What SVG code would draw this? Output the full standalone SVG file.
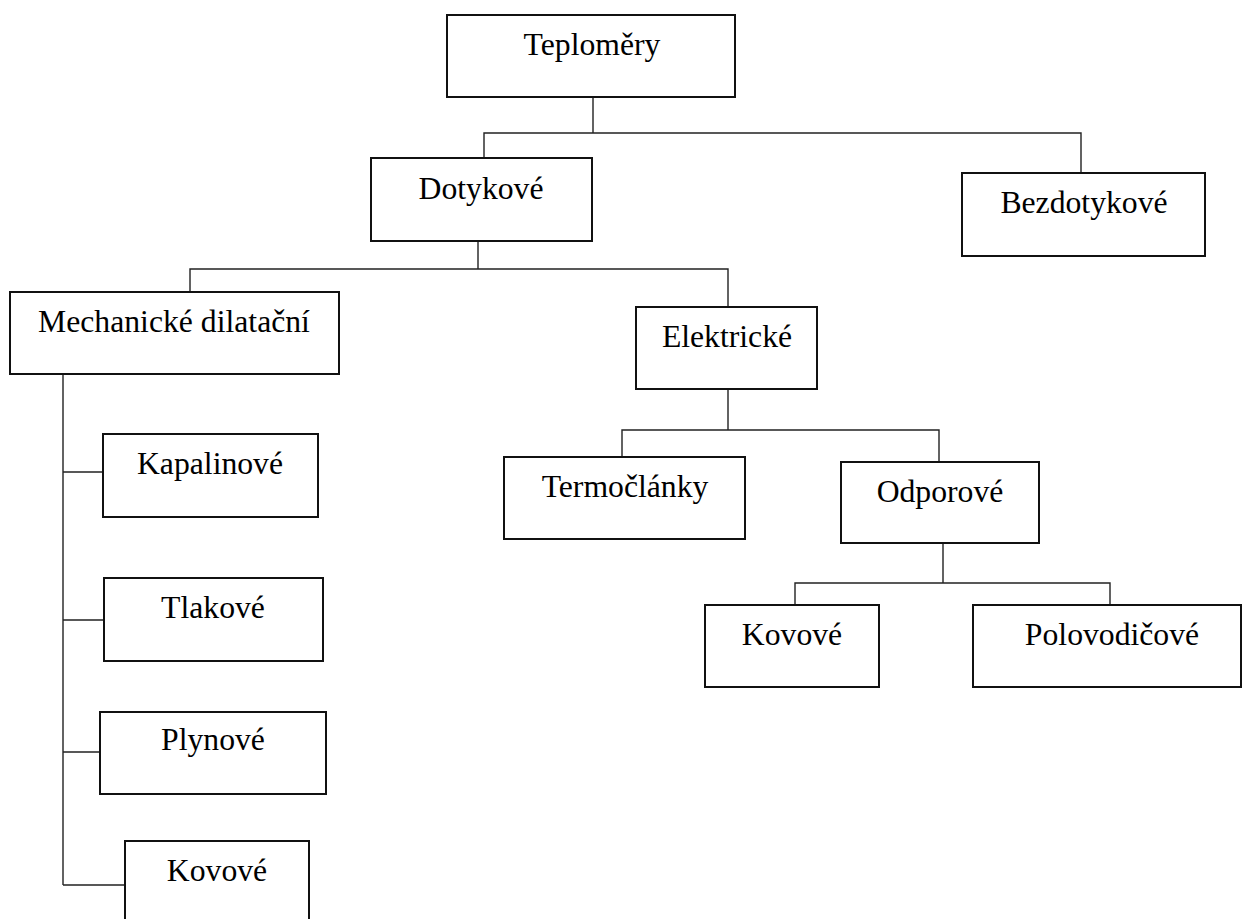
<svg xmlns="http://www.w3.org/2000/svg" width="1243" height="919" viewBox="0 0 1243 919">
<style>
.box{fill:#fff;stroke:#111;stroke-width:2}
.lbl{font-family:"Liberation Serif","Times New Roman",serif;font-size:31.7px;fill:#000;text-anchor:middle}
.con{fill:none;stroke:#222;stroke-width:1.4}
</style>
<rect width="1243" height="919" fill="#fff"/>
<g id="connectors">
<path class="con" d="M593 97V133M484 158V133H1081V173"/>
<path class="con" d="M478 241V269M190 292V269H728V307"/>
<path class="con" d="M728 389V430M622 457V430H939V462"/>
<path class="con" d="M943 543V583M795 605V583H1110V605"/>
<path class="con" d="M63 374V885M63 472H103M63 620H104M63 752H100M63 885H125"/>
</g>
<g id="n-teplomery"><rect class="box" x="447" y="15" width="288" height="82"/><text class="lbl" x="592" y="55">Teploměry</text></g>
<g id="n-dotykove"><rect class="box" x="371" y="158" width="221" height="83"/><text class="lbl" x="481" y="199">Dotykové</text></g>
<g id="n-bezdotykove"><rect class="box" x="962" y="173" width="243" height="83"/><text class="lbl" x="1084" y="213">Bezdotykové</text></g>
<g id="n-mechanicke"><rect class="box" x="10" y="292" width="329" height="82"/><text class="lbl" x="174" y="332">Mechanické dilatační</text></g>
<g id="n-elektricke"><rect class="box" x="636" y="307" width="181" height="82"/><text class="lbl" x="727" y="347">Elektrické</text></g>
<g id="n-termoclanky"><rect class="box" x="504" y="457" width="241" height="82"/><text class="lbl" x="625" y="497">Termočlánky</text></g>
<g id="n-odporove"><rect class="box" x="841" y="462" width="198" height="81"/><text class="lbl" x="940" y="502">Odporové</text></g>
<g id="n-kovove-r"><rect class="box" x="705" y="605" width="174" height="82"/><text class="lbl" x="792" y="645">Kovové</text></g>
<g id="n-polovodicove"><rect class="box" x="973" y="605" width="268" height="82"/><text class="lbl" x="1112" y="645">Polovodičové</text></g>
<g id="n-kapalinove"><rect class="box" x="103" y="434" width="215" height="83"/><text class="lbl" x="210" y="474">Kapalinové</text></g>
<g id="n-tlakove"><rect class="box" x="104" y="578" width="219" height="83"/><text class="lbl" x="213" y="618">Tlakové</text></g>
<g id="n-plynove"><rect class="box" x="100" y="712" width="226" height="82"/><text class="lbl" x="213" y="750">Plynové</text></g>
<g id="n-kovove-l"><rect class="box" x="125" y="841" width="184" height="100"/><text class="lbl" x="217" y="881">Kovové</text></g>
</svg>
